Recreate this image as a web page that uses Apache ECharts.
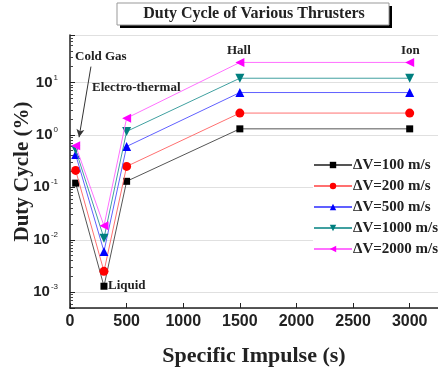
<!DOCTYPE html>
<html><head><meta charset="utf-8">
<style>html,body{margin:0;padding:0;background:#fff}#c{width:438px;height:369px}</style>
<script src="https://cdn.jsdelivr.net/npm/echarts@6/dist/echarts.min.js"></script>
</head><body><div id="c"></div>
<script>
const impulse = [50, 300, 500, 1500, 3000];
const seriesNames = ['\u0394V=100 m/s', '\u0394V=200 m/s', '\u0394V=500 m/s', '\u0394V=1000 m/s', '\u0394V=2000 m/s'];
const dv100  = [0.12, 0.0013, 0.13, 1.3, 1.3];
const dv200  = [0.21, 0.0025, 0.25, 2.6, 2.6];
const dv500  = [0.42, 0.006, 0.6, 6.4, 6.4];
const dv1000 = [0.52, 0.0107, 1.16, 12, 12];
const dv2000 = [0.62, 0.0185, 2.08, 24, 24];
const xTicks = [0, 500, 1000, 1500, 2000, 2500, 3000];

const values = [dv100, dv200, dv500, dv1000, dv2000];
const colors = ['#000000', '#ff0000', '#0000ff', '#007f7f', '#ff00ff'];
const lineColors = ['#555555', '#ff7070', '#6060ff', '#40a0a0', '#ff70ff'];
const symbols = ['rect', 'circle', 'triangle', 'triangle', 'triangle'];
const rotates = [0, 0, 0, 180, 90];
const sizes = [7, 9, 9, 9, 9];

const chart = echarts.init(document.getElementById('c'));
const serif = 'Liberation Serif';
const series = values.map((v, i) => ({
  name: seriesNames[i],
  type: 'line',
  data: impulse.map((x, j) => [x, v[j]]),
  symbol: symbols[i], symbolRotate: rotates[i], symbolSize: sizes[i],
  itemStyle: {color: colors[i]},
  lineStyle: {color: lineColors[i], width: 1},
  z: 3 + i
}));
series[0].markLine = {
  silent: true, symbol: ['none', 'arrow'], symbolSize: [6, 8],
  label: {show: false},
  lineStyle: {color: '#333', width: 1, type: 'solid'},
  data: [[{coord: [185, 20]}, {coord: [80, 0.9]}]]
};

chart.setOption({
  animation: false,
  grid: {left: 70, top: 35, right: 0, bottom: 61, containLabel: false, outerBoundsMode: 'none'},
  xAxis: {
    type: 'value', min: 0, max: 3250, interval: 500,
    axisLine: {lineStyle: {color: '#222', width: 1.5}},
    axisTick: {inside: true, length: 5, lineStyle: {color: '#222'}},
    axisLabel: {fontFamily: 'Liberation Sans', fontWeight: 'bold', fontSize: 16, color: '#222', margin: 6,
      formatter: v => xTicks.includes(v) ? String(v) : ''},
    splitLine: {show: false},
    name: 'Specific Impulse (s)', nameLocation: 'middle', nameGap: 37, nameMoveOverlap: false,
    nameTextStyle: {fontFamily: serif, fontWeight: 'bold', fontSize: 22, color: '#222'}
  },
  yAxis: {
    type: 'log', logBase: 10, min: 0.0005, max: 80,
    axisLine: {show: true, lineStyle: {color: '#222', width: 1.5}},
    axisTick: {inside: true, length: 5, lineStyle: {color: '#222'}},
    minorTick: {show: true, splitNumber: 9, length: 3, lineStyle: {color: '#444'}},
    splitLine: {show: true, lineStyle: {color: '#e0e0e0', width: 1}},
    axisLabel: {
      margin: 12, color: '#222',
      formatter: v => {
        const e = Math.log10(v);
        if (Math.abs(e - Math.round(e)) > 1e-6) return '';
        return '{b|10}{s|' + Math.round(e) + '}';
      },
      rich: {
        b: {fontFamily: 'Liberation Sans', fontWeight: 'bold', fontSize: 15, color: '#222', lineHeight: 18},
        s: {fontFamily: 'Liberation Sans', fontSize: 8, color: '#222', verticalAlign: 'top', lineHeight: 18, padding: [0, 0, 9, 1]}
      }
    },
    name: 'Duty Cycle (%)', nameLocation: 'middle', nameGap: 37, nameRotate: 90, nameMoveOverlap: false,
    nameTextStyle: {fontFamily: serif, fontWeight: 'bold', fontSize: 21, color: '#222'}
  },
  legend: {
    orient: 'vertical', left: 313, top: 157,
    itemWidth: 38, itemHeight: 8, itemGap: 5,
    backgroundColor: '#fff', padding: [0, 0, 0, 0],
    textStyle: {fontFamily: serif, fontWeight: 'bold', fontSize: 15, lineHeight: 16, color: '#222', padding: [0, 0, 0, -4]},
    data: seriesNames
  },
  graphic: [
    {type: 'rect', shape: {x: 120, y: 6, width: 272, height: 22}, style: {fill: '#000'}, z: 10},
    {type: 'rect', shape: {x: 117, y: 3, width: 272, height: 22}, style: {fill: '#fff', stroke: '#999', lineWidth: 1}, z: 11},
    {type: 'text', x: 254, y: 14, z: 12, style: {text: 'Duty Cycle of Various Thrusters', fontFamily: serif, fontWeight: 'bold', fontSize: 16, fill: '#222', align: 'center', verticalAlign: 'middle'}},
    {type: 'text', x: 75, y: 57, z: 12, style: {text: 'Cold Gas', fontFamily: serif, fontWeight: 'bold', fontSize: 13, fill: '#222', verticalAlign: 'middle'}},
    {type: 'text', x: 92, y: 88, z: 12, style: {text: 'Electro-thermal', fontFamily: serif, fontWeight: 'bold', fontSize: 13, fill: '#222', verticalAlign: 'middle'}},
    {type: 'text', x: 227, y: 51, z: 12, style: {text: 'Hall', fontFamily: serif, fontWeight: 'bold', fontSize: 13, fill: '#222', verticalAlign: 'middle'}},
    {type: 'text', x: 401, y: 51, z: 12, style: {text: 'Ion', fontFamily: serif, fontWeight: 'bold', fontSize: 13, fill: '#222', verticalAlign: 'middle'}},
    {type: 'text', x: 108, y: 286, z: 12, style: {text: 'Liquid', fontFamily: serif, fontWeight: 'bold', fontSize: 13, fill: '#222', verticalAlign: 'middle'}}
  ],
  series: series
});
</script></body></html>
